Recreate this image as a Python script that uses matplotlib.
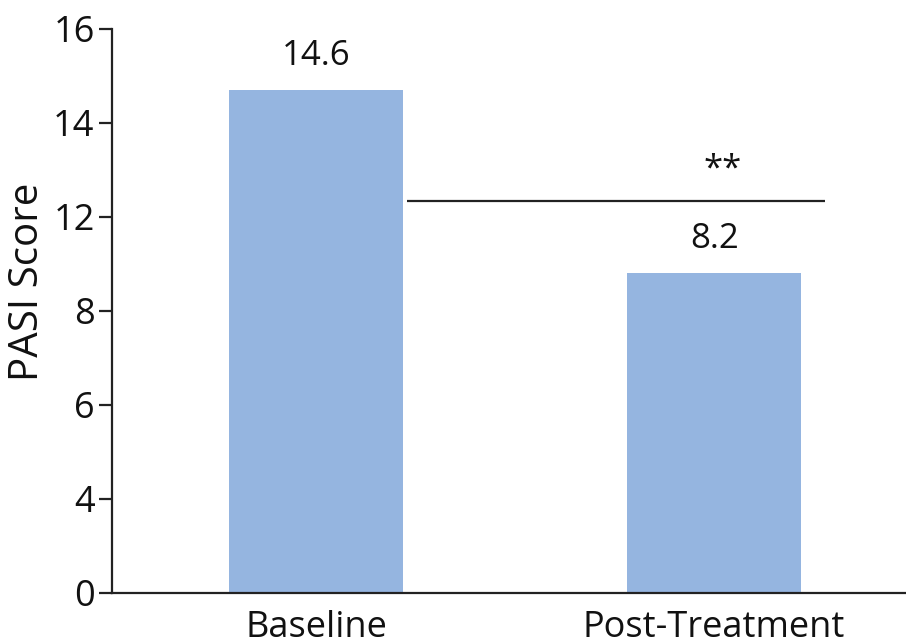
import numpy as np
import matplotlib
matplotlib.use("Agg")
import matplotlib.pyplot as plt

# ---- data ----
categories = ["Baseline", "Post-Treatment"]
bar_heights = [14.7, 9.6]
value_labels = ["14.6", "8.2"]     # printed values
sig_level = 12.35                  # significance bracket level
sig_text = "**"
ytick_values = [0, 4, 6, 8, 12, 14, 16]
ytick_labels = ["0", "4", "6", "8", "12", "14", "16"]

plt.rcParams['font.family'] = ['Open Sans', 'DejaVu Sans']

# piecewise scale: axis ticks are evenly spaced although values are not
idx = np.arange(len(ytick_values), dtype=float)
def fwd(v):
    return np.interp(v, ytick_values, idx)
def inv(p):
    return np.interp(p, idx, ytick_values)

fig = plt.figure(figsize=(9.06, 6.42), dpi=100)
W, H = 906, 642
left, right, top, bottom = 112, 906, 29, 593
ax = fig.add_axes([left / W, (H - bottom) / H, (right - left) / W, (bottom - top) / H])
ax.set_yscale('function', functions=(fwd, inv))

bar_color = "#95B5E0"
edge = "#222222"
txt = "#111111"
x = np.arange(len(categories))
ax.bar(x, bar_heights, width=0.437, color=bar_color, zorder=2)

ax.set_xlim(-0.513, 1.482)
ax.set_ylim(0, 16)
ax.set_yticks(ytick_values)
ax.set_yticklabels(ytick_labels)
ax.set_xticks(x)
ax.set_xticklabels(categories)

for s in ["top", "right"]:
    ax.spines[s].set_visible(False)
for s in ["left", "bottom"]:
    ax.spines[s].set_linewidth(1.6)
    ax.spines[s].set_color(edge)

ax.tick_params(axis='y', direction='out', length=9.5, width=1.6, color=edge,
               labelsize=26, pad=3, labelcolor=txt)
ax.tick_params(axis='x', length=0, labelsize=26, pad=12, labelcolor=txt)

ylab = ax.set_ylabel("PASI Score", fontsize=29, color=txt, va='center')
ax.yaxis.set_label_coords(-0.106, 0.551)

# value labels
for xi, h, lab in zip(x, bar_heights, value_labels):
    ax.annotate(lab, xy=(xi, h), xytext=(0, 24.5), textcoords='offset points',
                ha='center', va='center', fontsize=25, color=txt)

# significance line
ax.plot([0.229, 1.279], [sig_level, sig_level], color=edge, lw=1.6,
        solid_capstyle='butt', clip_on=False)
ax.annotate(sig_text, xy=(1.02, sig_level), xytext=(0, 22), textcoords='offset points',
            ha='center', va='center', fontsize=25, color=txt)

fig.savefig("out.png", dpi=100, facecolor="white")
